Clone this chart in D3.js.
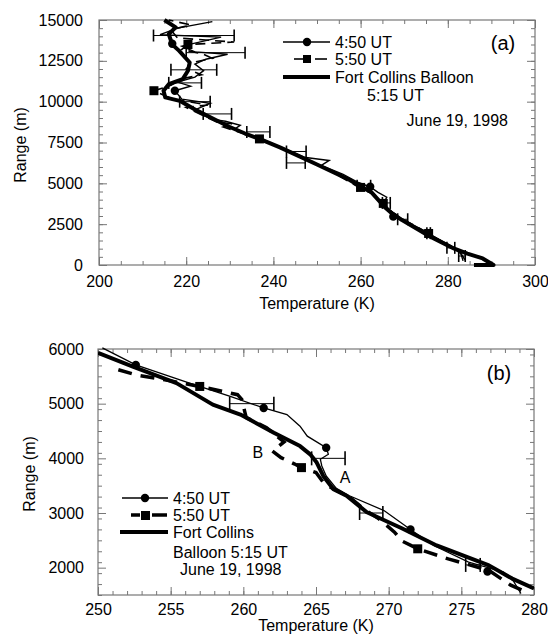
<!DOCTYPE html>
<html>
<head>
<meta charset="utf-8">
<script src="https://cdn.jsdelivr.net/npm/d3@7"></script>
<style>
body { margin: 0; background: white; }
svg { display: block; font-family: "Liberation Sans", Arial, sans-serif; }
</style>
</head>
<body>
<svg width="548" height="637"></svg>
<script>
// all profiles are [temperature (K), range (m)]

// ---- panel (a)
const balloonA = [[286,0],[290.5,0],[288,400],[284.5,700],[281.5,1000],[278.5,1400],[276,1730],[273,2200],[269.5,2750],[267,3200],[265.5,3550],[264,4000],[262.5,4450],[260,4800],[257.5,5200],[254,5650],[250,6150],[246,6650],[241.5,7200],[237.5,7650],[233.5,8050],[230,8450],[227,8850],[222.5,9450],[218.5,10050],[215.2,10260],[214.8,10670],[216,11070],[219.2,11380],[220.4,11890],[220.8,12400],[218.4,13110],[216.8,13500],[216,14140],[217.6,14550],[215,15000]];
const lidar450A = [[283.5,250],[283,700],[280.5,1200],[277,1700],[275,2050],[272,2450],[269,2900],[267.5,3200],[266,3550],[265.5,3900],[266,4150],[264,4450],[262.2,4780],[259.5,5050],[256,5550],[251,6100],[252.8,6400],[247,6600],[244,6950],[240.5,7350],[237,7750],[233,8100],[231,8300],[232.4,8550],[229,8800],[226.5,8900],[224,9150],[222,9500],[225.5,9900],[219,10150],[217.4,10670],[221,10950],[218,11200],[222,11500],[224,11900],[222,12300],[224.5,12600],[229.5,12900],[222,13050],[219,13400],[228,13950],[214,14100],[218,14500],[226,14900]];
const lidar550A = [[284,300],[282.5,900],[279,1400],[275.6,1930],[272.5,2400],[268.5,2950],[266,3450],[265.2,3760],[263.5,4250],[260,4700],[257,5150],[253.5,5700],[250,6150],[246,6650],[242.5,7100],[239,7500],[236.8,7720],[232,8150],[228.5,8450],[230.5,8650],[227,8750],[223.5,9200],[220,9650],[225,9800],[217,10150],[212.6,10670],[216.5,11000],[219,11400],[223.5,11650],[220,12000],[221.5,12400],[226,12650],[224,12900],[219,13200],[220.4,13500],[231,13650],[218,13900],[216.5,14400],[221,14700],[216,15000]];
const circlesA = [[262.2,4790],[267.5,2960],[217.4,10670],[216.8,13550]];
const squaresA = [[212.6,10670],[220.4,13500],[236.8,7720],[260,4750],[265.2,3770],[275.6,1930]];
// [range, low, high]
const errorsA = [[14050,212.5,231],[13000,220,233.5],[11950,216.5,227],[11150,216,223.5],[10000,218.5,225.5],[9250,223.9,230.4],[8150,233.9,239.2],[6950,243,247.5],[6250,243,247.3],[4850,259.2,262.3],[3800,265,266.8],[2800,268.5,270.8],[1950,275.2,276],[1050,279.8,281.6],[550,282.5,284]];
const xTicksA = [200, 220, 240, 260, 280, 300];
const yTicksA = [0, 2500, 5000, 7500, 10000, 12500, 15000];

// ---- panel (b)
const balloonB = [[250,5930],[252.4,5678],[255.4,5376],[257.9,4982],[259.8,4800],[262.1,4467],[263.9,4224],[264.6,4073],[265.05,3922],[265.5,3678],[266.2,3436],[267.1,3315],[268.5,3013],[270.9,2720],[273.3,2406],[276.9,2042],[278.5,1800],[280,1618]];
const lidar450B = [[250.3,6020],[252.6,5709],[256.3,5376],[259.1,5133],[261.4,4921],[263,4800],[263.9,4588],[264.4,4406],[265.7,4194],[265.85,4073],[265.3,3982],[265.4,3861],[265.7,3678],[266.4,3450],[267.3,3315],[269.7,3042],[271.5,2697],[273.1,2406],[275.5,2103],[277.9,1921],[278.6,1750],[279.1,1527]];
const lidar550B = [[251.4,5620],[252.6,5527],[254.6,5436],[257,5315],[259.6,5164],[259.9,5073],[260.1,4850],[260.2,4745],[261.6,4560],[262.8,4300],[262,4133],[262.6,4012],[263.5,3900],[264,3830],[265,3740],[265.5,3560],[266,3473],[267.3,3291],[268.3,3070],[269.3,2900],[270.4,2650],[270.9,2490],[272,2345],[274.1,2160],[276.9,1950],[278.4,1680],[279.5,1550]];
const circlesB = [[252.6,5709],[261.4,4921],[265.7,4194],[271.5,2697],[276.8,1930]];
const squaresB = [[257,5315],[264,3830],[272,2345]];
const errorsB = [[5000,259.06,262.1],[4000,264.7,267],[3000,268,269.6],[2050,275.3,276.3]];
const xTicksB = [250, 255, 260, 265, 270, 275, 280];
const yTicksB = [2000, 3000, 4000, 5000, 6000];
const pointLabelsB = [['A',267,3650],['B',261,4120]];

const svg = d3.select('svg');
const font = 'Liberation Sans, Arial, sans-serif';
const axisColor = '#777';

function drawPanel(p) {
        const x = d3.scaleLinear().domain(p.xDomain).range([p.left, p.right]);
        const y = d3.scaleLinear().domain(p.yDomain).range([p.bottom, p.top]);
        const g = svg.append('g');

        const minorX = d3.range(p.xDomain[0], p.xDomain[1] + 1e-6, p.xMinor);
        const minorY = d3.range(p.yDomain[0], p.yDomain[1] + 1e-6, p.yMinor);

        const axes = [
                [d3.axisBottom(x).tickValues(minorX).tickSize(-4).tickFormat(''), `translate(0,${p.bottom})`],
                [d3.axisBottom(x).tickValues(p.xTicks).tickSize(-8).tickPadding(p.xPad).tickFormat(d3.format('d')), `translate(0,${p.bottom})`],
                [d3.axisTop(x).tickValues(minorX).tickSize(-4).tickFormat(''), `translate(0,${p.top})`],
                [d3.axisTop(x).tickValues(p.xTicks).tickSize(-8).tickFormat(''), `translate(0,${p.top})`],
                [d3.axisLeft(y).tickValues(minorY).tickSize(-4).tickFormat(''), `translate(${p.left},0)`],
                [d3.axisLeft(y).tickValues(p.yTicks).tickSize(-8).tickPadding(p.yPad).tickFormat(d3.format('d')), `translate(${p.left},0)`],
                [d3.axisRight(y).tickValues(minorY).tickSize(-4).tickFormat(''), `translate(${p.right},0)`],
                [d3.axisRight(y).tickValues(p.yTicks).tickSize(-8).tickFormat(''), `translate(${p.right},0)`]
        ];
        axes.forEach(a => {
                const ag = g.append('g').attr('transform', a[1]).call(a[0])
                        .attr('font-family', font).attr('font-size', 16);
                ag.select('.domain').remove();
                ag.selectAll('line').attr('stroke', axisColor);
                ag.selectAll('text').attr('fill', '#000');
        });

        g.append('rect')
                .attr('x', p.left).attr('y', p.top)
                .attr('width', p.right - p.left).attr('height', p.bottom - p.top)
                .attr('fill', 'none').attr('stroke', axisColor).attr('stroke-width', 1.2);

        // axis titles
        g.append('text')
                .attr('x', (p.left + p.right) / 2).attr('y', p.xTitleY)
                .attr('text-anchor', 'middle').attr('font-size', 16).attr('font-family', font)
                .text('Temperature (K)');
        g.append('text')
                .attr('transform', `translate(${p.yTitleX},${p.yTitleY}) rotate(-90)`)
                .attr('text-anchor', 'middle').attr('font-size', 16).attr('font-family', font)
                .text('Range (m)');

        const clipId = 'clip-' + p.name;
        svg.append('clipPath').attr('id', clipId)
                .append('rect')
                .attr('x', p.left).attr('y', p.top - 2)
                .attr('width', p.right - p.left).attr('height', p.bottom - p.top + 4);
        const plot = g.append('g').attr('clip-path', `url(#${clipId})`);

        const line = d3.line().x(d => x(d[0])).y(d => y(d[1]));

        // error bars
        p.errors.forEach(e => {
                plot.append('line')
                        .attr('x1', x(e[1])).attr('x2', x(e[2]))
                        .attr('y1', y(e[0])).attr('y2', y(e[0]))
                        .attr('stroke', '#000').attr('stroke-width', 1);
                [e[1], e[2]].forEach(t => {
                        plot.append('line')
                                .attr('x1', x(t)).attr('x2', x(t))
                                .attr('y1', y(e[0]) - p.cap).attr('y2', y(e[0]) + p.cap)
                                .attr('stroke', '#000').attr('stroke-width', 1.6);
                });
        });

        plot.append('path').datum(p.lidar450)
                .attr('d', line).attr('fill', 'none')
                .attr('stroke', '#000').attr('stroke-width', p.thinWidth);
        plot.append('path').datum(p.lidar550)
                .attr('d', line).attr('fill', 'none')
                .attr('stroke', '#000').attr('stroke-width', p.dashWidth)
                .attr('stroke-dasharray', p.dash);
        plot.append('path').datum(p.balloon)
                .attr('d', line).attr('fill', 'none')
                .attr('stroke', '#000').attr('stroke-width', 4)
                .attr('stroke-linejoin', 'round');

        plot.selectAll('circle.m').data(p.circles).enter()
                .append('circle')
                .attr('cx', d => x(d[0])).attr('cy', d => y(d[1]))
                .attr('r', 4.2).attr('fill', '#000');
        plot.selectAll('rect.m').data(p.squares).enter()
                .append('rect')
                .attr('x', d => x(d[0]) - 4.5).attr('y', d => y(d[1]) - 4.5)
                .attr('width', 9).attr('height', 9).attr('fill', '#000');

        (p.pointLabels || []).forEach(l => {
                g.append('text')
                        .attr('x', x(l[1])).attr('y', y(l[2]))
                        .attr('text-anchor', 'middle').attr('dy', '0.36em')
                        .attr('font-size', 16).attr('font-family', font)
                        .text(l[0]);
        });

        g.append('text')
                .attr('x', p.tagX).attr('y', p.tagY)
                .attr('text-anchor', 'middle').attr('dy', '0.36em')
                .attr('font-size', 20).attr('font-family', font)
                .text(p.tag);
        return g;
}

drawPanel({
        name: 'a', tag: '(a)', tagX: 503, tagY: 43,
        left: 99, right: 535, top: 20, bottom: 265,
        xDomain: [200, 300], yDomain: [0, 15000], xMinor: 5, yMinor: 500,
        xTicks: xTicksA, yTicks: yTicksA, xPad: 11, yPad: 16,
        xTitleY: 309, yTitleX: 26, yTitleY: 145,
        balloon: balloonA, lidar450: lidar450A, lidar550: lidar550A,
        circles: circlesA, squares: squaresA, errors: errorsA, cap: 6,
        thinWidth: 1.4, dashWidth: 1.6, dash: '10,6'
});

drawPanel({
        name: 'b', tag: '(b)', tagX: 499, tagY: 373,
        left: 98, right: 534, top: 349, bottom: 595,
        xDomain: [250, 280], yDomain: [1500, 6000], xMinor: 1, yMinor: 200,
        xTicks: xTicksB, yTicks: yTicksB, xPad: 9, yPad: 14,
        xTitleY: 631, yTitleX: 35, yTitleY: 474,
        balloon: balloonB, lidar450: lidar450B, lidar550: lidar550B,
        circles: circlesB, squares: squaresB, errors: errorsB, cap: 7,
        thinWidth: 1.3, dashWidth: 3.5, dash: '14,9',
        pointLabels: pointLabelsB
});

// ---- legends
function legendText(x, y, s, anchor) {
        svg.append('text').attr('x', x).attr('y', y)
                .attr('font-size', 16).attr('font-family', font)
                .attr('text-anchor', anchor || 'start')
                .text(s);
}
function seg(x1, x2, y, w, dash) {
        svg.append('line').attr('x1', x1).attr('x2', x2).attr('y1', y).attr('y2', y)
                .attr('stroke', '#000').attr('stroke-width', w)
                .attr('stroke-dasharray', dash || null);
}

// (a)
seg(283, 330, 42, 1.4);
svg.append('circle').attr('cx', 307).attr('cy', 42).attr('r', 4.2);
seg(294, 303, 59, 1.6);
svg.append('rect').attr('x', 303).attr('y', 55).attr('width', 8).attr('height', 8);
seg(315, 327, 59, 1.6);
seg(283, 330, 77, 4);
legendText(335, 48, '4:50 UT');
legendText(335, 65, '5:50 UT');
legendText(335, 83, 'Fort Collins Balloon');
legendText(367, 101, '5:15 UT');
legendText(508, 126, 'June 19, 1998', 'end');

// (b)
seg(122, 168, 498, 1.3);
svg.append('circle').attr('cx', 145).attr('cy', 498).attr('r', 4.2);
seg(131, 140, 515, 3.5);
svg.append('rect').attr('x', 141).attr('y', 511).attr('width', 9).attr('height', 9);
seg(152, 167, 515, 3.5);
seg(120, 168, 532, 4);
legendText(173, 504, '4:50 UT');
legendText(173, 521, '5:50 UT');
legendText(173, 538, 'Fort Collins');
legendText(173, 558, 'Balloon 5:15 UT');
legendText(180, 575, 'June 19, 1998');
</script>
</body>
</html>
